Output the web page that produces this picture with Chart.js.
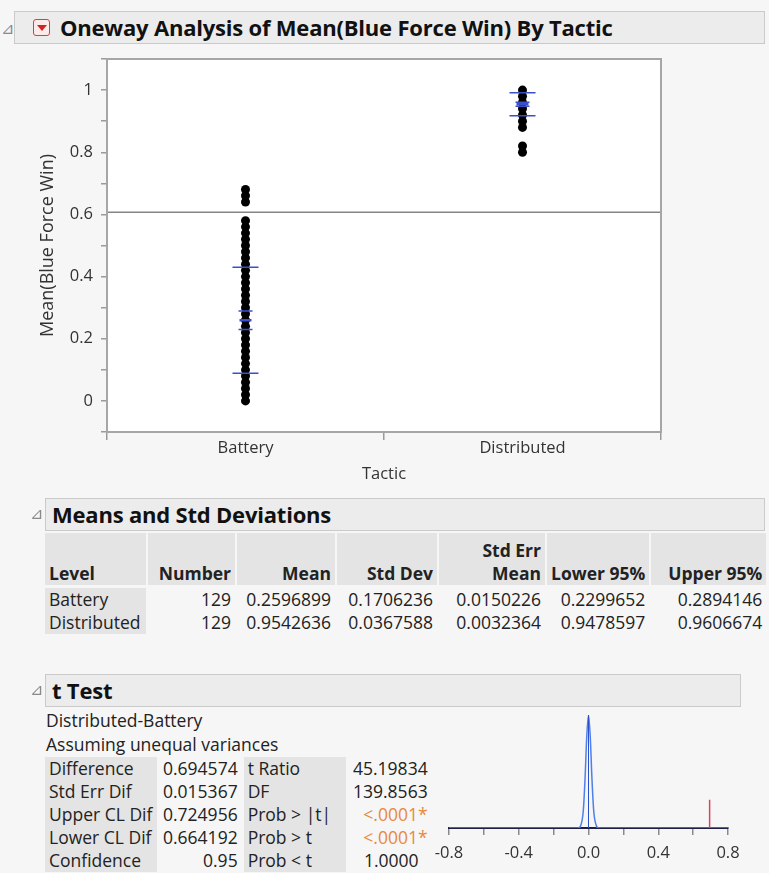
<!DOCTYPE html>
<html>
<head>
<meta charset="utf-8">
<script src="https://cdn.jsdelivr.net/npm/chart.js@4.4.1/dist/chart.umd.min.js"></script>
<style>
  body { margin: 0; width: 769px; height: 873px; overflow: hidden; position: relative;
         background: #f6f6f6; font-family: "Open Sans", sans-serif; color: #222; }
  .hdr { position: absolute; box-sizing: border-box; background: #ececec; border: 1px solid #cacaca;
         font-weight: bold; font-size: 22px; line-height: 30px; color: #111; white-space: nowrap; letter-spacing: -0.2px; }
  .tri { position: absolute; font-family: "DejaVu Sans"; font-size: 16px; color: #8a8a8a; z-index: 2; }
  .menu { position: absolute; left: 33px; top: 19px; width: 17px; height: 17px; box-sizing: border-box; z-index: 2;
          border: 1px solid #c44; border-radius: 3px; background: #fbeaea; }
  .menu:after { content: ""; position: absolute; left: 3px; top: 5px; border-left: 5px solid transparent;
                border-right: 5px solid transparent; border-top: 6px solid #d32020; }
  .box { position: absolute; }
  table { border-collapse: separate; border-spacing: 2px 0; font-size: 17.5px; }
  td, th { padding: 0 4px; white-space: nowrap; }
  th { background: #e4e4e4; font-weight: bold; text-align: right; vertical-align: bottom; height: 52px; line-height: 23px; }
  td { text-align: right; height: 23px; line-height: 23px; }
  td.g { background: #e4e4e4; text-align: left; }
  .sig { color: #e8893c; }
  .txt { position: absolute; font-size: 17.5px; }
</style>
</head>
<body>

<span class="tri" style="left:1px;top:19px">⊿</span>
<div class="menu"></div>
<div class="hdr" style="left:14px;top:11px;width:751px;height:33px;padding-left:45px">Oneway Analysis of Mean(Blue Force Win) By Tactic</div>

<div class="box" style="left:0;top:50px;width:670px;height:440px"><canvas id="oneway" width="670" height="440"></canvas></div>

<span class="tri" style="left:30px;top:504px">⊿</span>
<div class="hdr" style="left:45px;top:498px;width:720px;height:33px;padding-left:6px">Means and Std Deviations</div>

<table class="box" style="left:43px;top:533px">
  <tr>
    <th style="text-align:left;width:93px">Level</th>
    <th style="width:79px">Number</th>
    <th style="width:90px">Mean</th>
    <th style="width:92px">Std Dev</th>
    <th style="width:98px">Std Err<br>Mean</th>
    <th style="width:92px">Lower 95%</th>
    <th style="width:107px">Upper 95%</th>
  </tr>
  <tr><td class="g" style="border-top:3px solid #f6f6f6" id="lv0"></td><td style="border-top:3px solid #f6f6f6" id="n0"></td><td style="border-top:3px solid #f6f6f6" id="m0"></td><td style="border-top:3px solid #f6f6f6" id="s0"></td><td style="border-top:3px solid #f6f6f6" id="se0"></td><td style="border-top:3px solid #f6f6f6" id="lo0"></td><td style="border-top:3px solid #f6f6f6" id="up0"></td></tr>
  <tr><td class="g" id="lv1"></td><td id="n1"></td><td id="m1"></td><td id="s1"></td><td id="se1"></td><td id="lo1"></td><td id="up1"></td></tr>
</table>

<span class="tri" style="left:30px;top:680px">⊿</span>
<div class="hdr" style="left:45px;top:674px;width:696px;height:33px;padding-left:6px">t Test</div>

<div class="txt" style="left:46px;top:708px">Distributed-Battery</div>
<div class="txt" style="left:46px;top:732px">Assuming unequal variances</div>

<table class="box" style="left:43px;top:757px">
  <tr><td class="g" style="width:104px">Difference</td><td style="width:68px">0.694574</td><td class="g" style="width:94px">t Ratio</td><td style="width:76px">45.19834</td></tr>
  <tr><td class="g">Std Err Dif</td><td>0.015367</td><td class="g">DF</td><td>139.8563</td></tr>
  <tr><td class="g">Upper CL Dif</td><td>0.724956</td><td class="g">Prob &gt; |t|</td><td class="sig">&lt;.0001*</td></tr>
  <tr><td class="g">Lower CL Dif</td><td>0.664192</td><td class="g">Prob &gt; t</td><td class="sig">&lt;.0001*</td></tr>
  <tr><td class="g">Confidence</td><td>0.95</td><td class="g">Prob &lt; t</td><td style="padding-right:13px">1.0000</td></tr>
</table>

<div class="box" style="left:420px;top:700px;width:345px;height:173px"><canvas id="ttest" width="345" height="173"></canvas></div>

<script>
const groups = ["Battery", "Distributed"];
const batteryWin = [0, 0.02, 0.04, 0.06, 0.08, 0.10, 0.12, 0.14, 0.16, 0.18, 0.20, 0.22, 0.24, 0.26,
  0.28, 0.30, 0.32, 0.34, 0.36, 0.38, 0.40, 0.42, 0.44, 0.46, 0.48, 0.50, 0.52, 0.54, 0.56, 0.58,
  0.64, 0.66, 0.68];
const distributedWin = [0.80, 0.82, 0.88, 0.90, 0.92, 0.94, 0.96, 0.98, 1.00];

// summary table
const counts = [129, 129];
const groupMean = [0.2596899, 0.9542636];
const groupSD = [0.1706236, 0.0367588];
const groupSE = [0.0150226, 0.0032364];
const lower95 = [0.2299652, 0.9478597];
const upper95 = [0.2894146, 0.9606674];
const grandMean = 0.6069768;

// t test density picture
const tCurveX = [-0.8, -0.06, -0.045, -0.03, -0.02, -0.01, 0, 0.01, 0.02, 0.03, 0.045, 0.06, 0.8];
const tCurveY = [0, 0, 0.02, 0.15, 0.43, 0.81, 1, 0.81, 0.43, 0.15, 0.02, 0, 0];
const estDiff = 0.694574;
const estMarkHeight = 0.25;

groups.forEach((g, i) => {
  document.getElementById("lv" + i).textContent = g;
  document.getElementById("n" + i).textContent = counts[i];
  document.getElementById("m" + i).textContent = groupMean[i].toFixed(7);
  document.getElementById("s" + i).textContent = groupSD[i].toFixed(7);
  document.getElementById("se" + i).textContent = groupSE[i].toFixed(7);
  document.getElementById("lo" + i).textContent = lower95[i].toFixed(7);
  document.getElementById("up" + i).textContent = upper95[i].toFixed(7);
});

const blue = "#3a4fc8";
const font = { family: "Open Sans", size: 16.5 };

const markAt = vals => groups.map((g, i) => ({ x: g, y: vals[i] }));

const plotFrame = {
  id: "plotFrame",
  beforeDraw(chart) {
    const { ctx, chartArea: a } = chart;
    ctx.save();
    ctx.fillStyle = "#ffffff";
    ctx.fillRect(a.left, a.top, a.right - a.left, a.bottom - a.top);
    ctx.restore();
  },
  beforeDatasetsDraw(chart) {
    const { ctx, chartArea: a, scales } = chart;
    const gy = scales.y.getPixelForValue(grandMean);
    ctx.save();
    ctx.strokeStyle = "#858585";
    ctx.lineWidth = 1.5;
    ctx.beginPath();
    ctx.moveTo(a.left, gy);
    ctx.lineTo(a.right, gy);
    ctx.stroke();
    ctx.restore();
  },
  afterDraw(chart) {
    const { ctx, chartArea: a } = chart;
    ctx.save();
    ctx.strokeStyle = "#a6a6a6";
    ctx.lineWidth = 2;
    ctx.strokeRect(a.left, a.top, a.right - a.left, a.bottom - a.top);
    ctx.restore();
  }
};

/* =========================
   ONEWAY DOT PLOT
========================= */
new Chart(document.getElementById("oneway"), {
  type: "scatter",
  data: {
    labels: groups,
    datasets: [
      { data: markAt(groupMean.map((m, i) => m + groupSD[i])), pointStyle: "line", radius: 13, borderColor: blue, borderWidth: 1.5 },
      { data: markAt(groupMean.map((m, i) => m - groupSD[i])), pointStyle: "line", radius: 13, borderColor: blue, borderWidth: 1.5 },
      { data: markAt(upper95), pointStyle: "line", radius: 7, borderColor: blue, borderWidth: 1.5 },
      { data: markAt(lower95), pointStyle: "line", radius: 7, borderColor: blue, borderWidth: 1.5 },
      { data: markAt(groupMean), pointStyle: "line", radius: 6, borderColor: blue, borderWidth: 2.5 },
      { data: batteryWin.map(v => ({ x: groups[0], y: v })), radius: 4.5, backgroundColor: "#000", borderWidth: 0 },
      { data: distributedWin.map(v => ({ x: groups[1], y: v })), radius: 4.5, backgroundColor: "#000", borderWidth: 0 }
    ]
  },
  options: {
    responsive: false,
    animation: false,
    events: [],
    layout: { autoPadding: false, padding: { left: 0, top: 9, right: 9, bottom: 0 } },
    plugins: { legend: { display: false }, tooltip: { enabled: false } },
    scales: {
      x: {
        type: "category",
        offset: true,
        grid: { offset: true, drawOnChartArea: false, tickLength: 8, color: "#9a9a9a", lineWidth: 1.5 },
        border: { display: false },
        ticks: { font, color: "#333", padding: -2 },
        title: { display: true, text: "Tactic", font, color: "#333", padding: { top: 4, bottom: 6 } },
        afterFit: s => { s.height = 58; s.paddingLeft = 0; s.paddingRight = 0; }
      },
      y: {
        min: -0.1,
        max: 1.1,
        grid: { drawOnChartArea: false, tickLength: 6, color: "#9a9a9a", lineWidth: 1.5 },
        border: { display: false },
        ticks: {
          stepSize: 0.1,
          font, color: "#333", padding: 8,
          callback: v => {
            const k = Math.round(v * 10);
            return (k % 2 === 0 && k >= 0 && k <= 10) ? String(k / 10) : "";
          }
        },
        title: { display: true, text: "Mean(Blue Force Win)", font: { family: "Open Sans", size: 18 }, color: "#333", padding: { top: 37, bottom: 0 } },
        afterFit: s => { s.width = 107; s.paddingTop = 0; s.paddingBottom = 0; }
      }
    }
  },
  plugins: [plotFrame]
});

/* =========================
   T TEST DENSITY
========================= */
new Chart(document.getElementById("ttest"), {
  type: "line",
  data: {
    datasets: [
      { data: [{ x: estDiff, y: 0 }, { x: estDiff, y: estMarkHeight }], borderColor: "#d8455c", borderWidth: 1.5, pointRadius: 0 },
      { data: [{ x: 0, y: 0 }, { x: 0, y: 1 }], borderColor: "#2950c8", borderWidth: 1, pointRadius: 0 },
      { data: tCurveX.map((x, i) => ({ x, y: tCurveY[i] })), borderColor: "#4f7fe8", borderWidth: 1.5,
        pointRadius: 0, cubicInterpolationMode: "monotone" }
    ]
  },
  options: {
    responsive: false,
    animation: false,
    events: [],
    layout: { padding: { left: 29, top: 15, right: 37, bottom: 0 } },
    plugins: { legend: { display: false }, tooltip: { enabled: false } },
    scales: {
      x: {
        type: "linear",
        min: -0.8,
        max: 0.8,
        grid: { drawOnChartArea: false, tickLength: 7, color: "#8a8a8a", lineWidth: 1.5 },
        border: { color: "#1c2048", width: 2 },
        ticks: {
          stepSize: 0.2,
          font, color: "#333", padding: 8,
          callback: v => {
            const k = Math.round(v * 10);
            return k % 4 === 0 ? (k / 10).toFixed(1) : "";
          }
        },
        afterFit: s => { s.height = 45; }
      },
      y: { display: false, min: 0, max: 1 }
    }
  }
});
</script>
</body>
</html>
